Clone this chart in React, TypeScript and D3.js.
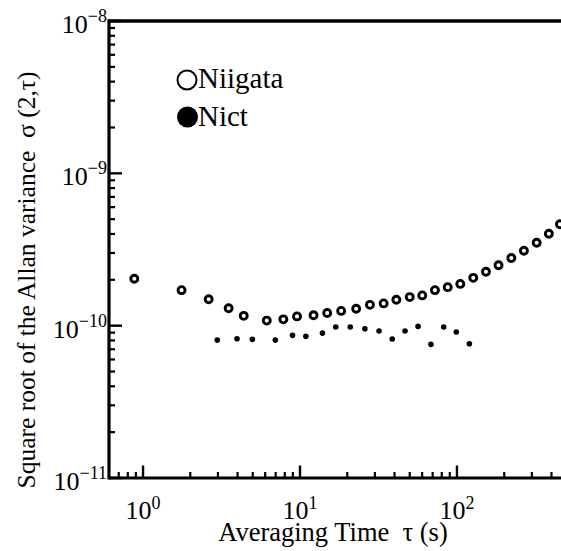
import React from "react";
import * as d3 from "d3";

// Niigata (open circles)
const niigataTau = [0.88, 1.76, 2.62, 3.51, 4.38, 6.14, 7.83, 9.57, 12.2, 14.9, 18.3, 22.8, 27.9, 34.1, 41.1, 50.0, 60.1, 72.4, 87.3, 105, 127, 153, 184, 222, 267, 322, 385, 453];
const niigataSigma = [2.03e-10, 1.71e-10, 1.49e-10, 1.30e-10, 1.16e-10, 1.08e-10, 1.10e-10, 1.15e-10, 1.17e-10, 1.21e-10, 1.25e-10, 1.29e-10, 1.37e-10, 1.40e-10, 1.48e-10, 1.54e-10, 1.58e-10, 1.71e-10, 1.79e-10, 1.88e-10, 2.06e-10, 2.26e-10, 2.49e-10, 2.78e-10, 3.10e-10, 3.50e-10, 4.01e-10, 4.63e-10];

// Nict (filled dots)
const nictTau = [2.97, 3.97, 4.97, 6.96, 8.96, 10.9, 13.9, 16.9, 20.9, 25.9, 31.9, 38.7, 46.7, 56.5, 68.3, 82.3, 99, 120];
const nictSigma = [8.04e-11, 8.20e-11, 8.13e-11, 8.04e-11, 8.64e-11, 8.51e-11, 8.94e-11, 9.79e-11, 9.79e-11, 9.54e-11, 9.22e-11, 8.17e-11, 9.22e-11, 9.89e-11, 7.54e-11, 9.79e-11, 9.08e-11, 7.61e-11];

const xMajor = [1, 10, 100];
const xMajorExp = ["0", "1", "2"];
const yMajor = [1e-8, 1e-9, 1e-10, 1e-11];
const yMajorExp = ["\u22128", "\u22129", "\u221210", "\u221211"];

const legendLabels = ["Niigata", "Nict"];
const xLabel = "Averaging Time  \u03c4 (s)";
const yLabel = "Square root of the Allan variance  \u03c3 (2,\u03c4)";

const W = 561;
const H = 551;
const FONT = "'Liberation Serif', 'Times New Roman', serif";

export default function App() {
  const x = d3.scaleLog().domain([0.607, 460]).range([109, 561]);
  const y = d3.scaleLog().domain([1e-11, 1e-8]).range([478, 21]);

  const xMinor: number[] = [];
  for (const dec of [0.1, 1, 10, 100]) {
    for (let k = 2; k <= 9; k++) {
      const v = dec * k;
      if (v >= 0.607 && v <= 460) xMinor.push(v);
    }
  }
  const yMinor: number[] = [];
  for (const dec of [1e-11, 1e-10, 1e-9]) {
    for (let k = 2; k <= 9; k++) yMinor.push(dec * k);
  }

  const left = x.range()[0];
  const bottom = y.range()[0];
  const top = y.range()[1];

  return (
    <svg width={W} height={H} style={{ position: "absolute", left: 0, top: 0, background: "#fff" }} fontFamily={FONT}>
      <rect x={0} y={0} width={W} height={H} fill="#fff" />
      {/* axis lines */}
      <line x1={left} x2={W} y1={top} y2={top} stroke="#000" strokeWidth={3.4} />
      <line x1={left} x2={W} y1={bottom} y2={bottom} stroke="#000" strokeWidth={3.2} />
      <line x1={left} x2={left} y1={top - 1.7} y2={bottom + 1.6} stroke="#000" strokeWidth={3.2} />

      {/* x ticks */}
      {xMinor.map((v, i) => (
        <line key={"xm" + i} x1={x(v)} x2={x(v)} y1={bottom} y2={bottom - 6} stroke="#000" strokeWidth={2.2} />
      ))}
      {xMajor.map((v, i) => (
        <g key={"xM" + i}>
          <line x1={x(v)} x2={x(v)} y1={bottom} y2={bottom - 12.5} stroke="#000" strokeWidth={2.4} />
          <text x={x(v)} y={519} textAnchor="middle" fontSize={26}>
            <tspan>10</tspan>
            <tspan dy={-10} fontSize={18}>{xMajorExp[i]}</tspan>
          </text>
        </g>
      ))}

      {/* y ticks */}
      {yMinor.map((v, i) => (
        <line key={"ym" + i} x1={left} x2={left + 6} y1={y(v)} y2={y(v)} stroke="#000" strokeWidth={2.2} />
      ))}
      {yMajor.map((v, i) => (
        <g key={"yM" + i}>
          <line x1={left} x2={left + 13} y1={y(v)} y2={y(v)} stroke="#000" strokeWidth={2.4} />
          <text x={107} y={y(v) + 12} textAnchor="end" fontSize={26}>
            <tspan>10</tspan>
            <tspan dy={-11} fontSize={18}>{yMajorExp[i]}</tspan>
          </text>
        </g>
      ))}

      {/* data */}
      {niigataTau.map((t, i) => (
        <circle key={"n" + i} cx={x(t)} cy={y(niigataSigma[i])} r={3.5} fill="#fff" stroke="#000" strokeWidth={2.9} />
      ))}
      {nictTau.map((t, i) => (
        <circle key={"c" + i} cx={x(t)} cy={y(nictSigma[i])} r={2.8} fill="#000" />
      ))}

      {/* legend */}
      <circle cx={187} cy={80} r={9.5} fill="#fff" stroke="#000" strokeWidth={2} />
      <text x={198} y={88} fontSize={29}>{legendLabels[0]}</text>
      <circle cx={187.5} cy={117} r={10.5} fill="#000" />
      <text x={198} y={126} fontSize={29}>{legendLabels[1]}</text>

      {/* axis titles */}
      <text x={333} y={541} textAnchor="middle" fontSize={26.5} style={{ whiteSpace: "pre" }}>{xLabel}</text>
      <text transform={`translate(35,280) rotate(-90)`} textAnchor="middle" fontSize={25.5} style={{ whiteSpace: "pre" }}>{yLabel}</text>
    </svg>
  );
}
